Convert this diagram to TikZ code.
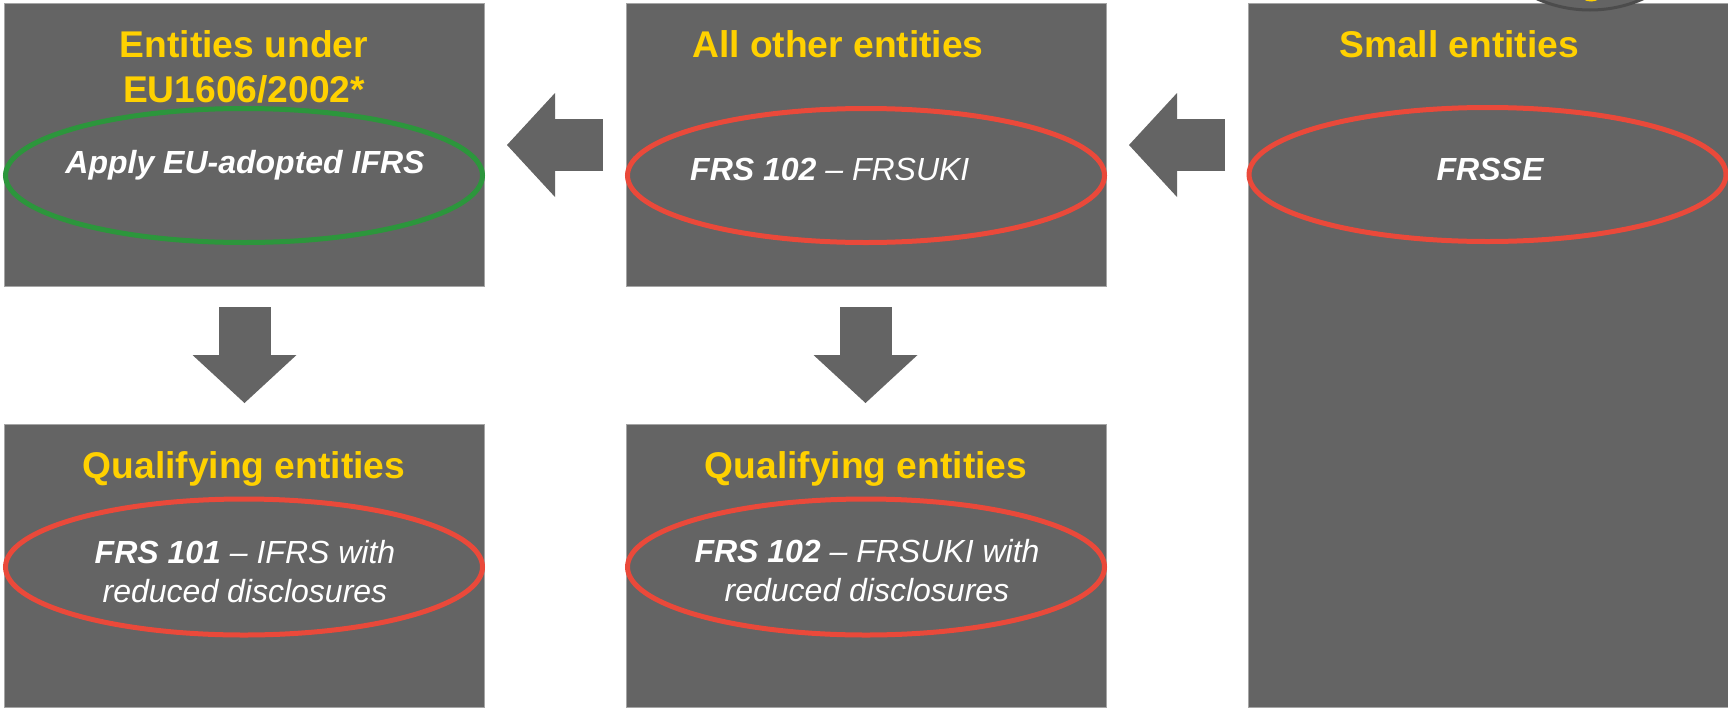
\documentclass[tikz,border=0pt]{standalone}
\usepackage{fontspec}
\setmainfont{Liberation Sans}
\usetikzlibrary{shapes.geometric,arrows.meta}
\definecolor{panel}{RGB}{100,100,100}
\definecolor{panelrim}{RGB}{165,165,165}
\definecolor{headyellow}{RGB}{255,209,0}
\definecolor{ringred}{RGB}{234,73,58}
\definecolor{ringgreen}{RGB}{44,150,60}
\begin{document}
\begin{tikzpicture}[x=1pt,y=-1pt,
  panelbox/.style={rectangle, fill=panel, draw=panelrim, line width=0.8pt,
    inner sep=0pt, minimum width=480pt},
  ring/.style={ellipse, draw=#1, line width=5pt, inner sep=0pt,
    minimum width=477pt, minimum height=134pt},
  heading/.style={text=headyellow, inner sep=0pt, align=center,
    font=\fontsize{37.2}{45}\selectfont\bfseries},
  bodytext/.style={text=white, inner sep=0pt, align=center,
    font=\fontsize{32}{39}\selectfont\itshape},
  blockarrow/.style={draw=panel, line width=52pt,
    -{Triangle[length=48pt,width=104pt,line width=0pt]}}
]
\clip (0,0) rectangle (1728,707);
\fill[white] (0,0) rectangle (1728,707);

% panels
\node[panelbox, minimum height=283pt] (eu)        at (244,144.5) {};
\node[panelbox, minimum height=283pt] (other)     at (866,144.5) {};
\node[panelbox, minimum height=704pt] (small)     at (1488,355)  {};
\node[panelbox, minimum height=283pt] (qualeu)    at (244,565.5) {};
\node[panelbox, minimum height=283pt] (qualother) at (866,565.5) {};

% badge peeking in at the top edge
\node[circle, fill=panel, draw=black!70, line width=3pt, inner sep=0pt,
      minimum size=262pt] (badge) at (1590,-121) {};
\node[ellipse, fill=headyellow, inner sep=0pt, minimum width=22pt,
      minimum height=15pt] (badgemark) at (1591,-6) {};

% block arrows between panels
\coordinate (a1from) at (603,145);   \coordinate (a1to) at (507,145);
\coordinate (a2from) at (1225,145);  \coordinate (a2to) at (1129,145);
\coordinate (d1from) at (244.5,307); \coordinate (d1to) at (244.5,403);
\coordinate (d2from) at (865.5,307); \coordinate (d2to) at (865.5,403);
\draw[blockarrow] (a1from) -- (a1to);
\draw[blockarrow] (a2from) -- (a2to);
\draw[blockarrow] (d1from) -- (d1to);
\draw[blockarrow] (d2from) -- (d2to);

% rings
\node[ring=ringgreen] (ifrsring)   at (244,175.5)   {};
\node[ring=ringred]   (frs102ring) at (866,175.5)   {};
\node[ring=ringred]   (frssering)  at (1487.5,174.5) {};
\node[ring=ringred, minimum height=136pt] (frs101rring) at (244,567) {};
\node[ring=ringred, minimum height=136pt] (frs102rring) at (866,567) {};

% headings (base of a multi-line node is its last line)
\node[heading, anchor=base]      (euhead)    at (244,102) {Entities under\\EU1606/2002*};
\node[heading, anchor=base west] (otherhead) at (692,57)  {All other entities};
\node[heading, anchor=base west] (smallhead) at (1339,57) {Small entities};
\node[heading, anchor=base]      (qualhead1) at (244,478) {Qualifying entities};
\node[heading, anchor=base]      (qualhead2) at (866,478) {Qualifying entities};

% ring texts
\node[bodytext, anchor=base]      (ifrstext)    at (245,173)  {\bfseries Apply EU-adopted IFRS};
\node[bodytext, anchor=base west] (frs102text)  at (690,180)  {\textbf{FRS 102} – FRSUKI};
\node[bodytext, anchor=base]      (frssetext)   at (1490,180) {\bfseries FRSSE};
\node[bodytext, anchor=base]      (frs101rtext) at (245,602)  {\textbf{FRS 101} – IFRS with\\reduced disclosures};
\node[bodytext, anchor=base]      (frs102rtext) at (867,601)  {\textbf{FRS 102} – FRSUKI with\\reduced disclosures};
\end{tikzpicture}
\end{document}
